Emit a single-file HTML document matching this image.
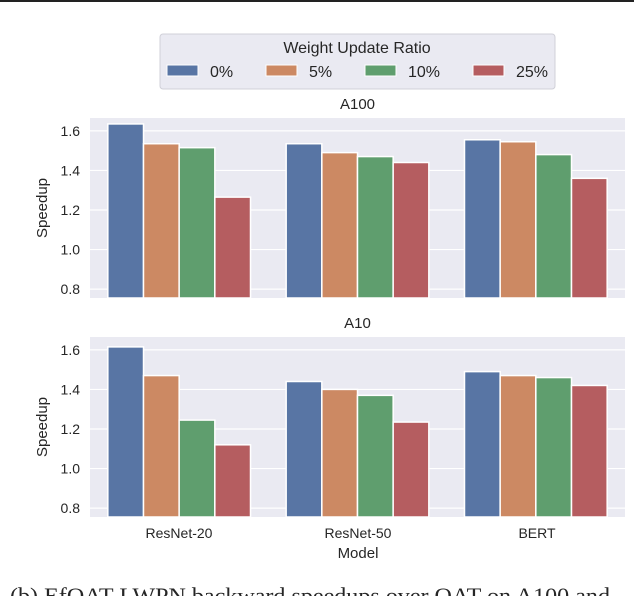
<!DOCTYPE html>
<html><head><meta charset="utf-8"><style>
body{margin:0;background:#fff;width:634px;height:596px;overflow:hidden}
svg text{font-family:"Liberation Sans",sans-serif;fill:#262626}
</style></head><body>
<svg width="634" height="596">
<rect x="0" y="0" width="634" height="2" fill="#222"/>
<g id="panels"></g>
<g>
<rect x="160" y="34" width="395" height="55" rx="3" fill="#eaeaf2" stroke="#d0d0d8"/>
<text x="357" y="53" font-size="16" text-anchor="middle">Weight Update Ratio</text>
<g id="leg"></g>
</g>
<text x="179" y="538" font-size="14" text-anchor="middle">ResNet-20</text>
<text x="358" y="538" font-size="14" text-anchor="middle">ResNet-50</text>
<text x="537" y="538" font-size="14" text-anchor="middle">BERT</text>
<text x="358" y="558" font-size="15" text-anchor="middle">Model</text>
<text x="10" y="603" font-size="22" textLength="600" lengthAdjust="spacingAndGlyphs" style="font-family:'Liberation Serif',serif">(b) EfQAT-LWPN backward speedups over QAT on A100 and</text>
</svg>
<script>
const categories=["ResNet-20","ResNet-50","BERT"];
const seriesNames=["0%","5%","10%","25%"];
const a100Values=[[1.635,1.535,1.515,1.265],[1.535,1.49,1.47,1.44],[1.555,1.545,1.48,1.36]];
const a10Values=[[1.615,1.47,1.245,1.12],[1.44,1.40,1.37,1.235],[1.49,1.47,1.46,1.42]];
const yTicks=[0.8,1.0,1.2,1.4,1.6];
const yTickLabels=["0.8","1.0","1.2","1.4","1.6"];
const colors=["#5875a4","#cc8963","#5f9e6e","#b55d60"];
const NS="http://www.w3.org/2000/svg";
function mk(p,t,a){const e=document.createElementNS(NS,t);for(const k in a)e.setAttribute(k,a[k]);p.appendChild(e);return e;}
const L=90,R=625,band=(R-L)/categories.length;
function xBand(i){return L+band*i;}
const panels=document.getElementById('panels');
function panel(top,bottom,title,vals,nm){
  const y0=0.755,y1=1.665;
  const y=v=>bottom-(v-y0)/(y1-y0)*(bottom-top);
  const g=mk(panels,'g',{});
  
  
  const bg=mk(g,'rect',{x:L,y:top,width:R-L,height:bottom-top,fill:'#eaeaf2'});
  
  
  yTicks.forEach((t,i)=>{
    const gl=mk(g,'line',{x1:L,x2:R,y1:y(t),y2:y(t),stroke:'#fff','stroke-width':1.2});
    
    
    const tx=mk(g,'text',{x:L-10,y:y(t)+5,'font-size':14,'text-anchor':'end'});
    tx.textContent=yTickLabels[i];
    
    
  });
  const gw=band*0.8,bw=gw/seriesNames.length;
  vals.forEach((row,ci)=>row.forEach((v,si)=>{
    const x=xBand(ci)+band*0.1+bw*si;
    const b=mk(g,'rect',{x:x,y:y(v),width:bw,height:bottom-y(v),fill:colors[si],stroke:'#fff','stroke-width':1.5});
    
    
  }));
  const tt=mk(g,'text',{x:(L+R)/2,y:top-9,'font-size':15,'text-anchor':'middle'});
  tt.textContent=title;
  
  
  const yl=mk(g,'text',{x:0,y:0,'font-size':15,'text-anchor':'middle',transform:`translate(47,${(top+bottom)/2}) rotate(-90)`});
  yl.textContent='Speedup';
  
  
}
panel(118,298,'A100',a100Values,'a100');
panel(337,517,'A10',a10Values,'a10');
const leg=document.getElementById('leg');
const lx=[167,266,365,473];
seriesNames.forEach((s,i)=>{
  const r=mk(leg,'rect',{x:lx[i],y:65,width:31,height:11,fill:colors[i],stroke:'#fff'});
  
  
  const t=mk(leg,'text',{x:lx[i]+43,y:77,'font-size':16});
  t.textContent=s;
  
  
});
</script>
</body></html>
